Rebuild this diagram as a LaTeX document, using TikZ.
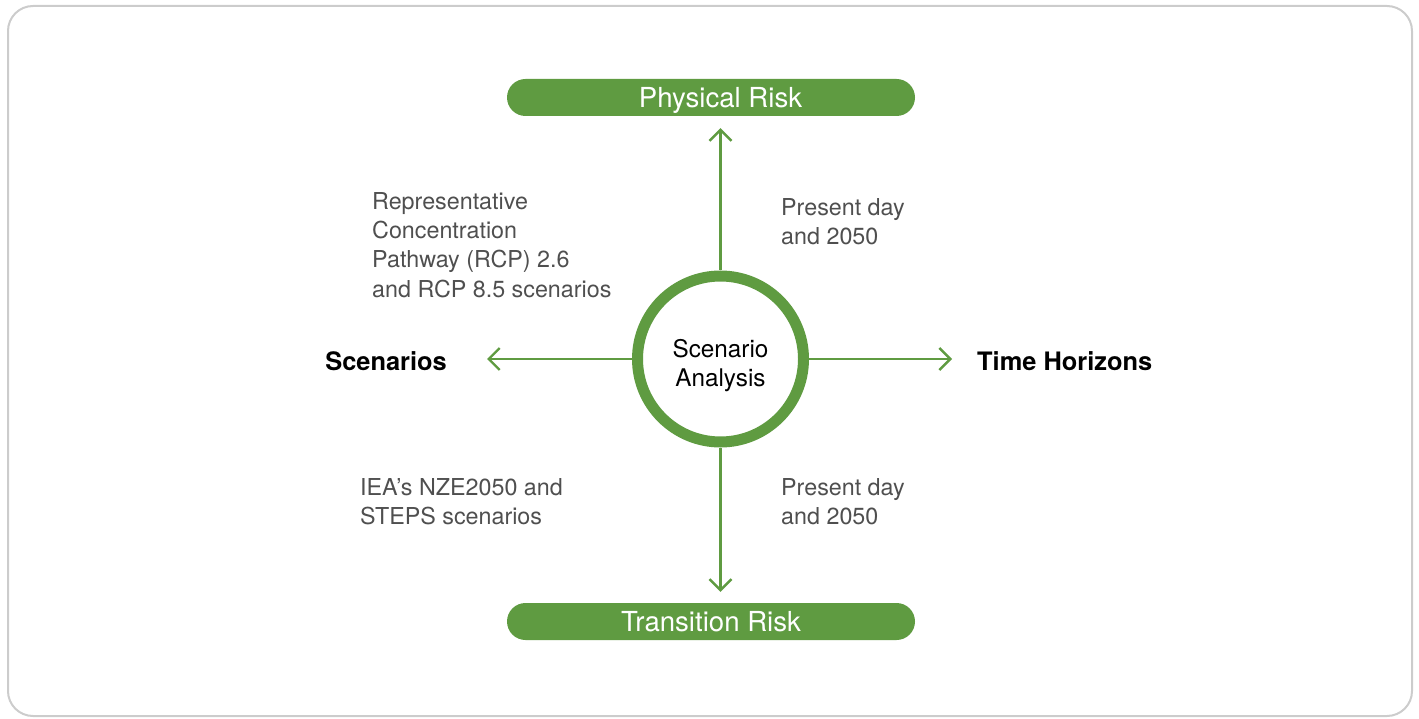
\documentclass[tikz,border=0pt]{standalone}
\usepackage{fontspec}
\setmainfont{TeX Gyre Heros}
\usetikzlibrary{arrows.meta}
\definecolor{grn}{HTML}{5F9B41}
\definecolor{framec}{HTML}{CCCCCC}
\definecolor{txt}{HTML}{4F4F4F}
\begin{document}
\begin{tikzpicture}[x=1pt,y=-1pt,
  pill/.style={fill=grn, rounded corners=18.5pt, minimum width=408pt, minimum height=37pt,
    text=white, font=\fontsize{27.6}{30}\selectfont, inner sep=0pt, text height=19.6pt, text depth=0pt},
  conn/.style={draw=grn, line width=2.4pt, -{Straight Barb[length=11pt,width=22pt]}},
  axislabel/.style={font=\fontsize{25.4}{30}\selectfont\bfseries, inner sep=0pt, text=black},
  note/.style={font=\fontsize{23.3}{29.3}\selectfont, text=txt, align=left, inner sep=0pt, anchor=west},
  hub/.style={circle, draw=grn, line width=11pt, minimum size=166pt, fill=white},
  hubtext/.style={align=center, font=\fontsize{24.3}{29}\selectfont, text=black, inner sep=0pt}
]
\useasboundingbox (0,0) rectangle (1419,719);
\draw[framec, line width=2pt, rounded corners=25pt] (8,6) rectangle (1412,716);

\node[pill] (pr) at (711,97.5) {\hspace*{19pt}Physical Risk};
\node[pill] (tr) at (711,621.5) {Transition Risk};
\node[hub] (c) at (720.5,359) {};
\node[hubtext] (ct) at (720.5,366) {Scenario\\Analysis};
\node[axislabel, anchor=east] (sc) at (447,361) {Scenarios};
\node[axislabel, anchor=west] (th) at (977,361) {Time Horizons};

\draw[conn, shorten >=12pt] (c.north) -- (c.north |- pr.south);
\draw[conn, shorten >=11pt] (c.south) -- (c.south |- tr.north);
\draw[conn, shorten >=40pt] (c.west) -- (c.west -| sc.east);
\draw[conn, shorten >=25pt] (c.east) -- (c.east -| th.west);

\node[note] (n1) at (372,245) {Representative\\Concentration\\Pathway (RCP) 2.6\\and RCP 8.5 scenarios};
\node[note] (n2) at (781,221.5) {Present day\\and 2050};
\node[note] (n3) at (360,502) {IEA’s NZE2050 and\\STEPS scenarios};
\node[note] (n4) at (781,502) {Present day\\and 2050};
\end{tikzpicture}
\end{document}
